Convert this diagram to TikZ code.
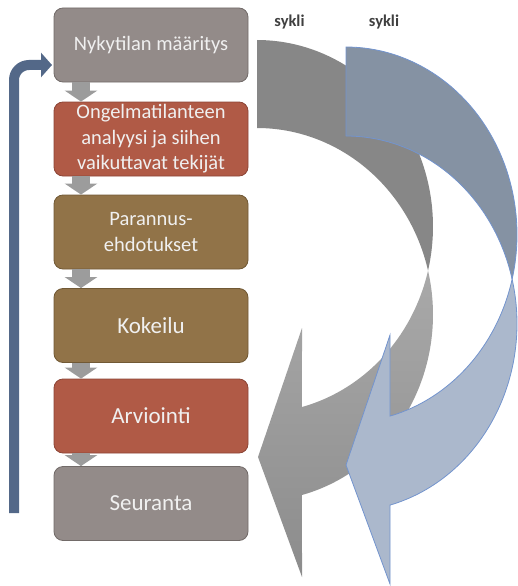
\documentclass[tikz,border=0pt]{standalone}
\usepackage{fontspec}
\setmainfont{Carlito}
\usetikzlibrary{arrows.meta}

\definecolor{boxgray}{HTML}{938B89}
\definecolor{boxgrayline}{HTML}{726B69}
\definecolor{boxred}{HTML}{B05A46}
\definecolor{boxredline}{HTML}{8C4536}
\definecolor{boxbrown}{HTML}{917348}
\definecolor{boxbrownline}{HTML}{715935}
\definecolor{stepgray}{HTML}{9C9C9C}
\definecolor{loopblue}{HTML}{536888}
\definecolor{ringgrayback}{HTML}{878787}
\definecolor{ringgraytop}{HTML}{A9A9A9}
\definecolor{ringgraybot}{HTML}{8C8C8C}
\definecolor{ringblueback}{HTML}{8592A3}
\definecolor{ringbluefront}{HTML}{ABB8CC}
\definecolor{ringblueline}{HTML}{7394CE}
\definecolor{labelgray}{HTML}{404040}

\tikzset{
  stagebox/.style={rounded corners=9pt, line width=0.8pt,
    minimum width=194pt, minimum height=74pt, align=center,
    text=white!94!black, inner sep=2pt},
  smalltext/.style={font=\fontsize{20.5}{25.5}\selectfont},
  bigtext/.style={font=\fontsize{23}{27}\selectfont},
  steparrow/.style={draw=stepgray, line width=18pt,
    -{Triangle[length=11pt,width=32pt]}},
  looparrow/.style={draw=loopblue, line width=10pt, rounded corners=15pt,
    -{Triangle[length=11pt,width=24pt]}},
  cyclelabel/.style={font=\fontsize{16.5}{18}\selectfont\bfseries, text=labelgray}
}

\begin{document}
\begin{tikzpicture}[x=1pt,y=-1pt]
\useasboundingbox (0,0) rectangle (518,586);

% grey cycle arrow: back crescent, then front band with head
\fill[ringgrayback]
  plot[domain=-90:13.64, samples=80, variable=\t] ({257+176*cos(\t)},{226.6+186.6*sin(\t)})
  -- plot[domain=-13.64:-90, samples=80, variable=\t] ({257+176*cos(\t)},{314.6+186.6*sin(\t)})
  -- cycle;
\shade[top color=ringgraytop, bottom color=ringgraybot]
  (258,457) -- (302,328)
  -- plot[domain=75.19:13.64, samples=80, variable=\t] ({257+176*cos(\t)},{226.6+186.6*sin(\t)})
  -- plot[domain=-13.64:75.19, samples=80, variable=\t] ({257+176*cos(\t)},{314.6+186.6*sin(\t)})
  -- (302,577) -- cycle;

% blue cycle arrow
\filldraw[fill=ringblueback, draw=ringblueline, line width=0.8pt, line join=round]
  plot[domain=-90:13.72, samples=80, variable=\t] ({346+171*cos(\t)},{234.7+187.7*sin(\t)})
  -- plot[domain=-13.72:-90, samples=80, variable=\t] ({346+171*cos(\t)},{323.7+187.7*sin(\t)})
  -- cycle;
\filldraw[fill=ringbluefront, draw=ringblueline, line width=0.8pt, line join=miter]
  (346,465) -- (390,335)
  -- plot[domain=75.09:13.72, samples=80, variable=\t] ({346+171*cos(\t)},{234.7+187.7*sin(\t)})
  -- plot[domain=-13.72:75.09, samples=80, variable=\t] ({346+171*cos(\t)},{323.7+187.7*sin(\t)})
  -- (390,584) -- cycle;

% labels above the cycles
\node[cyclelabel] (syk1) at (289.5,22) {sykli};
\node[cyclelabel] (syk2) at (384,22) {sykli};

% process stages
\node[stagebox, smalltext, fill=boxgray, draw=boxgrayline] (n1) at (151,45) {Nykytilan määritys};
\node[stagebox, smalltext, fill=boxred, draw=boxredline] (n2) at (151,139) {Ongelmatilanteen\\analyysi ja siihen\\vaikuttavat tekijät};
\node[stagebox, smalltext, fill=boxbrown, draw=boxbrownline] (n3) at (151,232) {Parannus-\\ehdotukset};
\node[stagebox, bigtext, fill=boxbrown, draw=boxbrownline] (n4) at (151,325.5) {Kokeilu};
\node[stagebox, bigtext, fill=boxred, draw=boxredline] (n5) at (151,416) {Arviointi};
\node[stagebox, bigtext, fill=boxgray, draw=boxgrayline] (n6) at (151,503.5) {Seuranta};

% small arrows between stages
\coordinate (col) at (81,0);
\draw[steparrow] (col |- n1.south) -- (col |- n2.north);
\draw[steparrow] (col |- n2.south) -- (col |- n3.north);
\draw[steparrow] (col |- n3.south) -- (col |- n4.north);
\draw[steparrow] (col |- n4.south) -- (col |- n5.north);
\draw[steparrow] (col |- n5.south) -- (col |- n6.north);

% feedback loop back to the first stage
\coordinate (loopstart) at (14,513);
\coordinate (loopend) at (52,65);
\draw[looparrow] (loopstart) |- (loopend);
\end{tikzpicture}
\end{document}
